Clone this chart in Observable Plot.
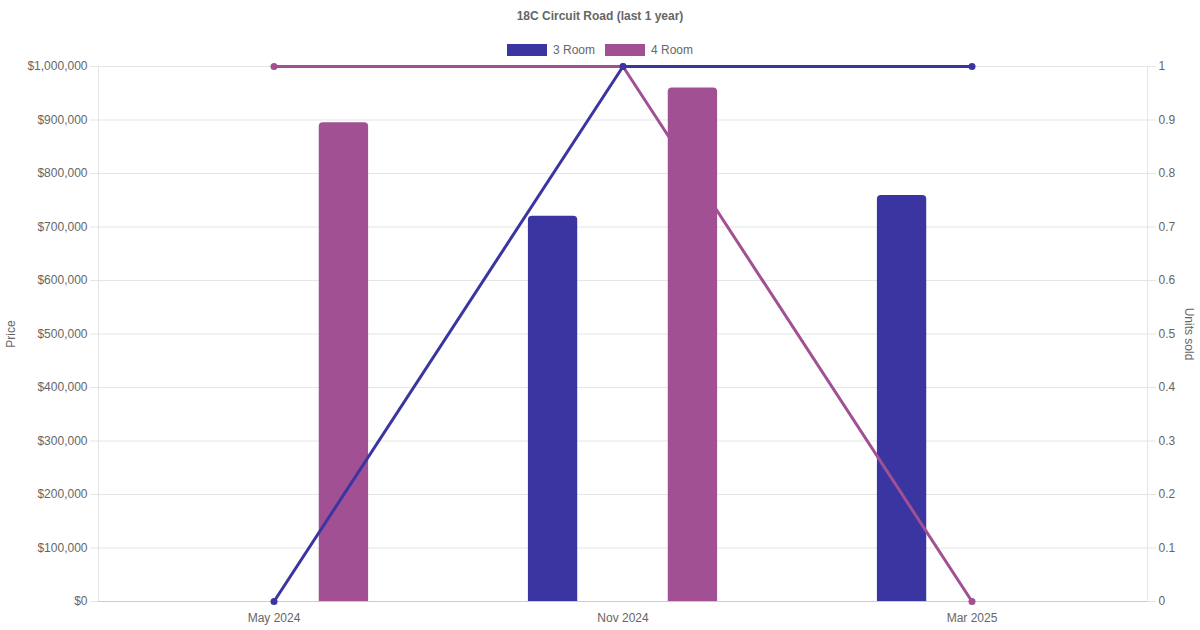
<!DOCTYPE html>
<html>
<head>
<meta charset="utf-8">
<script src="https://cdn.jsdelivr.net/npm/d3@7"></script>
<script src="https://cdn.jsdelivr.net/npm/@observablehq/plot@0.6"></script>
<style>
  html, body { margin: 0; padding: 0; background: #fff; }
  body { width: 1200px; height: 630px; overflow: hidden; font-family: "Liberation Sans", Arial, Helvetica, sans-serif; color: #666; }
  #title { height: 32px; line-height: 32px; text-align: center; font-size: 12px; font-weight: bold; color: #666; }
  #legend { height: 12px; margin-top: 12px; margin-bottom: 2px; display: flex; justify-content: center; align-items: center; font-size: 12px; color: #666; }
  .item { display: flex; align-items: center; margin: 0 5px; }
  .box { width: 40px; height: 12px; margin-right: 6px; box-sizing: border-box; }
  #chart svg { display: block; }
</style>
</head>
<body>
<div id="title">18C Circuit Road (last 1 year)</div>
<div id="legend"></div>
<div id="chart"></div>
<script>
// ---- data ----
const months = ["May 2024", "Nov 2024", "Mar 2025"];
const rooms = ["3 Room", "4 Room"];
const colors = ["#3a35a1", "#a05093"];
const price3Room = [null, 720000, 759000];
const price4Room = [895000, 960000, null];
const units3Room = [0, 1, 1];
const units4Room = [1, 1, 0];
const priceTicks = [0, 100000, 200000, 300000, 400000, 500000, 600000, 700000, 800000, 900000, 1000000];
const unitTicks = [0, 0.1, 0.2, 0.3, 0.4, 0.5, 0.6, 0.7, 0.8, 0.9, 1];

// ---- legend ----
const legend = document.getElementById("legend");
rooms.forEach((r, i) => {
  const it = document.createElement("div");
  it.className = "item";
  it.innerHTML = `<div class="box" style="background:${colors[i]}"></div><span>${r}</span>`;
  legend.appendChild(it);
});

// ---- layout ----
const W = 1200, H = 572;
const mL = 98, mR = 53, mT = 8, mB = 29;
const bw = (W - mL - mR) / months.length;
const catW = bw * 0.8, slot = catW / rooms.length;
const barW = Math.min(50, slot * 0.9);
function insets(i) {
  const left = bw / 2 - catW / 2 + slot * (i + 0.5) - barW / 2;
  return {insetLeft: left, insetRight: bw - left - barW};
}

const priceSeries = [price3Room, price4Room];
const unitSeries = [units3Room, units4Room];
const UNIT = 1000000; // units axis mapped onto the price scale (1 unit = top)

const bars = rooms.map((r, i) => months.map((m, j) => ({month: m, room: r, price: priceSeries[i][j]})).filter(d => d.price != null));
const lines = rooms.map((r, i) => months.map((m, j) => ({month: m, room: r, units: unitSeries[i][j]})));

const fmtPrice = d => "$" + d3.format(",")(d);
const fmtUnit = d => String(+(d / UNIT).toFixed(1));

const marks = [
  Plot.gridY(priceTicks, {stroke: "#e5e5e5", strokeOpacity: 1}),
  Plot.frame({stroke: "#e5e5e5"}),
  Plot.axisY(priceTicks, {anchor: "left", tickFormat: fmtPrice, tickSize: 8, tickPadding: 3, stroke: "#e5e5e5", fill: "#666", label: null}),
  Plot.axisY(unitTicks.map(u => u * UNIT), {anchor: "right", tickFormat: fmtUnit, tickSize: 8, tickPadding: 3, stroke: "#e5e5e5", fill: "#666", label: null}),
  Plot.axisX({tickSize: 0, tickPadding: 12, fill: "#666", label: null}),
  Plot.ruleY([0], {stroke: "#cccccc"}),
  // bars
  ...[0, 1].map(i => Plot.barY(bars[i], {x: "month", y: "price", fill: colors[i], ...insets(i), rx1y1: 4, rx2y1: 4})),
  // lines on top (4 Room first, 3 Room above it)
  ...[1, 0].flatMap(i => [
    Plot.line(lines[i], {x: "month", y: d => d.units * UNIT, stroke: colors[i], strokeWidth: 3}),
    Plot.dot(lines[i], {x: "month", y: d => d.units * UNIT, r: 3.5, fill: colors[i], stroke: null})
  ]),
  Plot.text(["Price"], {frameAnchor: "left", dx: -87, rotate: -90, text: d => d, fill: "#666", textAnchor: "middle", lineAnchor: "middle", fontSize: 12}),
  Plot.text(["Units sold"], {frameAnchor: "right", dx: 41, rotate: 90, text: d => d, fill: "#666", textAnchor: "middle", lineAnchor: "middle", fontSize: 12})
];

const chart = Plot.plot({
  width: W,
  height: H,
  marginLeft: mL,
  marginRight: mR,
  marginTop: mT,
  marginBottom: mB,
  style: {fontFamily: '"Liberation Sans", Arial, Helvetica, sans-serif', fontSize: "12px", color: "#666", background: "#fff", overflow: "visible"},
  x: {type: "band", domain: months, padding: 0, paddingInner: 0, paddingOuter: 0},
  y: {domain: [0, UNIT]},
  marks
});
document.getElementById("chart").appendChild(chart);
</script>
</body>
</html>
